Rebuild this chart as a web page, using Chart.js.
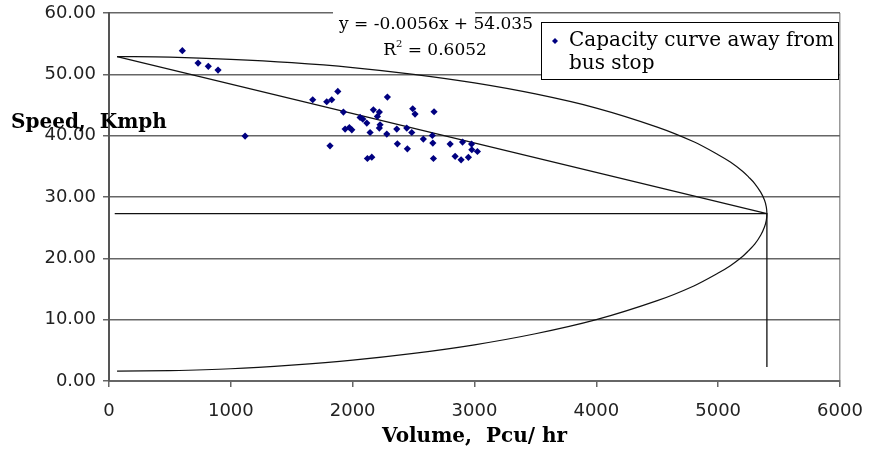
<!DOCTYPE html>
<html>
<head>
<meta charset="utf-8">
<script src="https://cdn.jsdelivr.net/npm/chart.js@4"></script>
<style>
  html, body { margin: 0; padding: 0; background: #ffffff; }
  #wrap { width: 870px; height: 455px; position: relative; }
</style>
</head>
<body>
<div id="wrap"><canvas id="c" width="870" height="455"></canvas></div>
<script>
// ---- observed data (Volume, Pcu/hr vs Speed, Kmph) ----
const volumes = [602, 731, 815, 895, 1117,
  1672, 1787, 1828, 1878, 2285, 1924, 2061, 2083, 2116, 2170, 2219, 2203, 2225, 2219,
  1938, 1973, 1993, 2143, 2280, 2362, 2444, 2485, 2493, 2512, 2668, 2580, 2654, 2658,
  2367, 2449, 1814, 2121, 2157, 2663, 2800, 2902, 2976, 2978, 3024, 2841, 2890, 2950];
const speeds = [53.85, 51.84, 51.3, 50.7, 39.93,
  45.86, 45.53, 45.86, 47.21, 46.3, 43.85, 42.97, 42.7, 42.05, 44.22, 43.85, 43.13, 41.78, 41.24,
  41.07, 41.33, 40.96, 40.52, 40.26, 41.07, 41.24, 40.52, 44.39, 43.52, 43.9, 39.44, 40.03, 38.79,
  38.67, 37.86, 38.35, 36.28, 36.5, 36.28, 38.63, 38.95, 38.63, 37.7, 37.42, 36.63, 36.06, 36.47];

// capacity curve
const curveVolume = [66, 500, 1000, 1500, 2000, 2500, 3000, 3500, 4000, 4500, 4800, 5000, 5100, 5200, 5250, 5300, 5350, 5380, 5395, 5400,
  5395, 5380, 5350, 5300, 5250, 5200, 5100, 5000, 4800, 4500, 4000, 3500, 3000, 2500, 2000, 1500, 1000, 500, 66];
const curveSpeed = [52.9, 52.8, 52.45, 51.9, 51.1, 50.0, 48.6, 46.8, 44.5, 41.4, 39.0, 36.9, 35.7, 34.2, 33.25, 32.2, 30.75, 29.5, 28.4, 27.3,
  26.2, 25.1, 23.8, 22.3, 21.25, 20.3, 18.8, 17.6, 15.5, 13.1, 10.0, 7.7, 5.9, 4.5, 3.4, 2.6, 2.0, 1.7, 1.6];

// straight line from free-flow speed to capacity point
const lineVolume = [66, 5400];
const lineSpeed = [52.9, 27.3];

// capacity marker lines (horizontal at critical speed, vertical at capacity)
const capVolume = [47, 5400, 5400];
const capSpeed = [27.3, 27.3, 2.3];

const xTicks = [0, 1000, 2000, 3000, 4000, 5000, 6000];
const yTicks = [0, 10, 20, 30, 40, 50, 60];

const legendLines = ['Capacity curve away from', 'bus stop'];
const equationText = 'y = -0.0056x + 54.035';
const r2Text = '0.6052';
const xTitle = 'Volume,  Pcu/ hr';
const yTitle = 'Speed,  Kmph';

const pts = (xs, ys) => xs.map((x, i) => ({ x: x, y: ys[i] }));

const annotationPlugin = {
  id: 'extras',
  afterDraw(chart) {
    const ctx = chart.ctx;
    ctx.save();
    // Y axis title (horizontal, at left)
    ctx.fillStyle = '#000';
    ctx.font = 'bold 20px "DejaVu Serif"';
    ctx.textAlign = 'left';
    ctx.textBaseline = 'middle';
    ctx.fillText(yTitle, 11, 123);

    // regression equation label (white box)
    ctx.fillStyle = '#fff';
    ctx.fillRect(333, 11, 142, 47);
    ctx.fillStyle = '#000';
    ctx.font = '17px "DejaVu Serif"';
    ctx.textAlign = 'center';
    ctx.fillText(equationText, 436, 25);
    // R^2 line
    const rest = ' = ' + r2Text;
    const wR = ctx.measureText('R').width;
    ctx.font = '10px "DejaVu Serif"';
    const w2 = ctx.measureText('2').width;
    ctx.font = '17px "DejaVu Serif"';
    const wRest = ctx.measureText(rest).width;
    let x0 = 435 - (wR + w2 + wRest) / 2;
    ctx.textAlign = 'left';
    ctx.fillText('R', x0, 51);
    ctx.font = '10px "DejaVu Serif"';
    ctx.fillText('2', x0 + wR, 44);
    ctx.font = '17px "DejaVu Serif"';
    ctx.fillText(rest, x0 + wR + w2, 51);

    // legend box
    const bx = 541, by = 22, bw = 297, bh = 57;
    ctx.fillStyle = '#fff';
    ctx.fillRect(bx, by, bw, bh);
    ctx.strokeStyle = '#000';
    ctx.lineWidth = 1;
    ctx.strokeRect(bx + 0.5, by + 0.5, bw, bh);
    // marker
    const ds = chart.data.datasets[0];
    ctx.fillStyle = ds.backgroundColor;
    ctx.beginPath();
    ctx.moveTo(555, 38); ctx.lineTo(558, 41); ctx.lineTo(555, 44); ctx.lineTo(552, 41);
    ctx.closePath(); ctx.fill();
    ctx.fillStyle = '#000';
    ctx.font = '20px "DejaVu Serif"';
    ctx.textBaseline = 'middle';
    ctx.fillText(legendLines[0], 569, 41);
    ctx.fillText(legendLines[1], 569, 64);
    ctx.restore();
  }
};

new Chart(document.getElementById('c'), {
  type: 'scatter',
  data: {
    datasets: [
      {
        label: legendLines.join(' '),
        data: pts(volumes, speeds),
        pointStyle: 'rectRot',
        pointRadius: 3.6,
        pointHoverRadius: 3.6,
        backgroundColor: '#000080',
        borderColor: '#000080',
        borderWidth: 0,
        showLine: false,
        order: 0
      },
      {
        label: 'curve',
        data: pts(curveVolume, curveSpeed),
        showLine: true,
        tension: 0.3,
        pointRadius: 0,
        borderColor: '#111',
        borderWidth: 1.2,
        fill: false,
        order: 1
      },
      {
        label: 'line',
        data: pts(lineVolume, lineSpeed),
        showLine: true,
        pointRadius: 0,
        borderColor: '#111',
        borderWidth: 1.2,
        order: 1
      },
      {
        label: 'capacity',
        data: pts(capVolume, capSpeed),
        showLine: true,
        tension: 0,
        pointRadius: 0,
        borderColor: '#111',
        borderWidth: 1.3,
        order: 1
      }
    ]
  },
  options: {
    responsive: false,
    animation: false,
    layout: { padding: { top: 13, right: 30, left: 0, bottom: 0 } },
    plugins: { legend: { display: false }, tooltip: { enabled: false } },
    scales: {
      x: {
        type: 'linear',
        min: xTicks[0], max: xTicks[xTicks.length - 1],
        afterBuildTicks: s => { s.ticks = xTicks.map(v => ({ value: v })); },
        afterFit: s => { s.height = 74; s.paddingLeft = 0; s.paddingRight = 0; },
        border: { display: true, color: '#666', width: 2 },
        grid: {
          drawTicks: true,
          tickLength: 6,
          tickColor: '#666',
          tickWidth: 1.5,
          color: c => (c.tick && c.tick.value === 6000) ? '#999' : 'rgba(0,0,0,0)',
          lineWidth: 1.5
        },
        ticks: {
          color: '#222',
          padding: 14,
          font: { family: '"DejaVu Sans"', size: 18 },
          callback: v => String(v)
        },
        title: {
          display: true,
          text: xTitle,
          color: '#000',
          font: { family: '"DejaVu Serif"', size: 20, weight: 'bold' },
          padding: { top: 4, bottom: 6 }
        }
      },
      y: {
        type: 'linear',
        min: yTicks[0], max: yTicks[yTicks.length - 1],
        afterBuildTicks: s => { s.ticks = yTicks.map(v => ({ value: v })); },
        afterFit: s => { s.width = 109; s.paddingTop = 0; s.paddingBottom = 0; },
        border: { display: true, color: '#555', width: 2 },
        grid: {
          drawTicks: true,
          tickLength: 6,
          tickColor: '#666',
          color: '#666',
          lineWidth: 1.5
        },
        ticks: {
          color: '#222',
          padding: 7,
          font: { family: '"DejaVu Sans"', size: 18 },
          callback: v => Number(v).toFixed(2)
        }
      }
    }
  },
  plugins: [annotationPlugin]
});
</script>
</body>
</html>
